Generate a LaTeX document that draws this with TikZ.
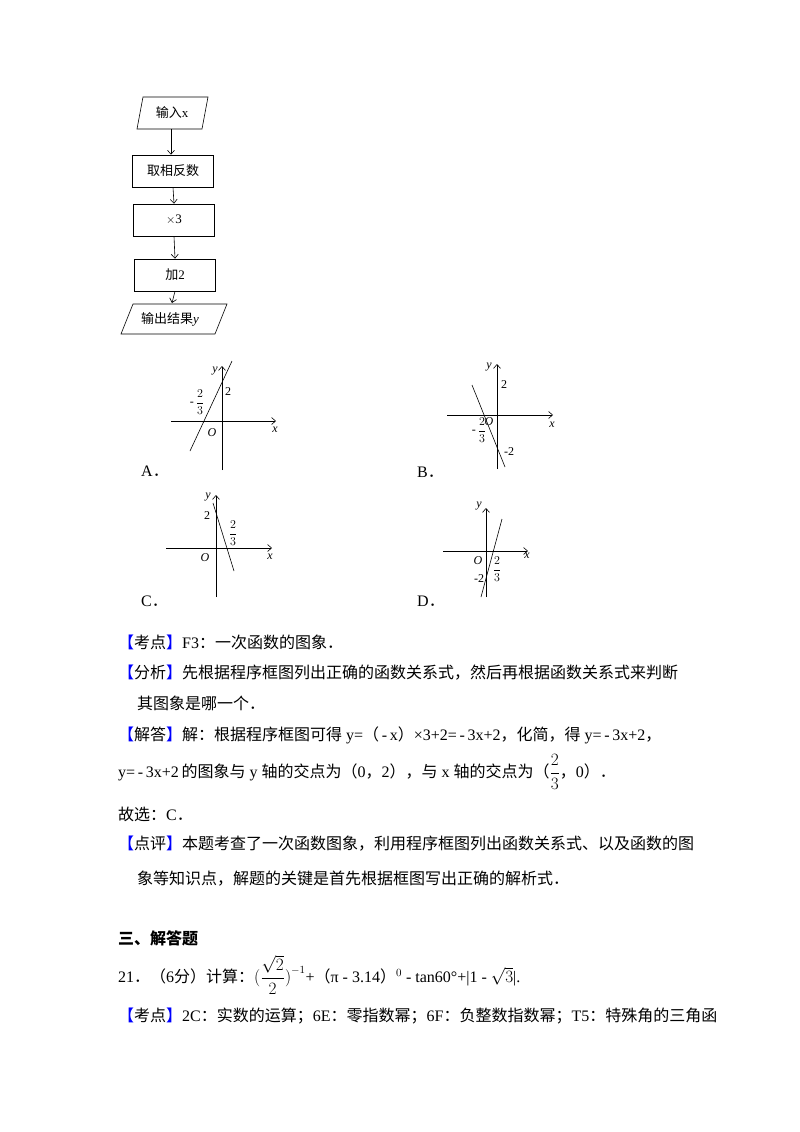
\documentclass[tikz,border=0pt]{standalone}
\usepackage{fontspec}
\setmainfont{Liberation Serif}
\newfontfamily\cjk{Noto Sans CJK SC}
\usetikzlibrary{arrows.meta}
\newcommand\zh[1]{{\cjk #1}}
\newcommand\kd[1]{\textcolor{blue}{\zh{【}}\zh{#1}\textcolor{blue}{\zh{】}}}
\newcommand\fr[2]{$\displaystyle\frac{#1}{#2}$}
\begin{document}
\begin{tikzpicture}[x=1pt,y=-1pt,
  fbox/.style={draw,semithick,minimum width=81pt,minimum height=32pt,font=\fontsize{13}{13}\selectfont,inner sep=0pt},
  arr/.style={-{Straight Barb[length=4pt,width=7pt]},semithick},
  ax/.style={-{Straight Barb[length=4pt,width=7pt]},semithick},
  gl/.style={font=\fontsize{12}{12}\selectfont\itshape,inner sep=0pt},
  gn/.style={font=\fontsize{12}{12}\selectfont,inner sep=0pt},
  txt/.style={anchor=west,inner sep=0pt,font=\fontsize{16}{16}\selectfont}]
\useasboundingbox[fill=white] (0,0) rectangle (800,1132);
% flowchart
\draw[semithick] (137,129)--(143,97)--(208,97)--(202,129)--cycle;
\node[font=\fontsize{13}{13}\selectfont] (in) at (172,113) {\zh{输入}x};
\coordinate (inb) at (171,129);
\node[fbox] (b1) at (173,171) {\zh{取相反数}};
\node[fbox] (b2) at (174,220) {$\times$3};
\node[fbox] (b3) at (175,275) {\zh{加}2};
\draw[semithick] (121,334)--(133,304)--(227,304)--(215,334)--cycle;
\node[font=\fontsize{13}{13}\selectfont] (out) at (170,319) {\zh{输出结果}\textit{y}};
\coordinate (outt) at (172,303);
\draw[arr] (inb) -- (b1.north -| inb);
\draw[arr] (b1.south) -- (b2.north);
\draw[arr] (b2.south) -- (b3.north);
\draw[arr] (b3.south) -- (outt);
% graph A
\draw[ax] (171,421)--(276,421);
\draw[ax] (222,470)--(222,366);
\draw[semithick] (190,451)--(232,361);
\node[gl] at (215,371) {y};
\node[gn] at (228,392) {2};
\node[gn] at (197,402) {-\,\fr{2}{3}};
\node[gl] at (212,433) {O};
\node[gl] at (275,430) {x};
\node[txt] at (141,471) {A\zh{．}};
% graph B
\draw[ax] (447,415)--(553,415);
\draw[ax] (497,469)--(497,364);
\draw[semithick] (472,385)--(505,467);
\node[gl] at (489,367) {y};
\node[gn] at (504,385) {2};
\node[gn] at (479,430) {-\,\fr{2}{3}};
\node[gl] at (489,422) {O};
\node[gn] at (509,452) {-2};
\node[gl] at (552,425) {x};
\node[txt] at (417,472) {B\zh{．}};
% graph C
\draw[ax] (166,548)--(272,548);
\draw[ax] (216,597)--(216,495);
\draw[semithick] (213,503)--(234,571);
\node[gl] at (208,497) {y};
\node[gn] at (207,516) {2};
\node[gn] at (233,533) {\fr{2}{3}};
\node[gl] at (205,558) {O};
\node[gl] at (270,557) {x};
\node[txt] at (141,601) {C\zh{．}};
% graph D
\draw[ax] (443,551)--(528,551);
\draw[ax] (486,597)--(486,508);
\draw[semithick] (481,597)--(502,519);
\node[gl] at (479,506) {y};
\node[gl] at (478,561) {O};
\node[gn] at (497,569) {\fr{2}{3}};
\node[gn] at (479,579) {-2};
\node[gl] at (527,556) {x};
\node[txt] at (417,601) {D\zh{．}};
% text
\node[txt] at (118,642) {\kd{考点}F3\zh{：一次函数的图象．}};
\node[txt] at (118,673) {\kd{分析}\zh{先根据程序框图列出正确的函数关系式，然后再根据函数关系式来判断}};
\node[txt] at (137,703) {\zh{其图象是哪一个．}};
\node[txt] at (118,735) {\kd{解答}\zh{解：根据程序框图可得} y=\zh{（}\,-\,x\zh{）}×3+2=\,-\,3x+2\zh{，化简，得} y=\,-\,3x+2\zh{，}};
\node[txt] at (118,772) {y=\,-\,3x+2\,\zh{的图象与} y \zh{轴的交点为（}0\zh{，}2\zh{），与} x \zh{轴的交点为（}\fr{2}{3}\zh{，}0\zh{）．}};
\node[txt] at (118,814) {\zh{故选：}C\zh{．}};
\node[txt] at (118,844) {\kd{点评}\zh{本题考查了一次函数图象，利用程序框图列出函数关系式、以及函数的图}};
\node[txt] at (137,879) {\zh{象等知识点，解题的关键是首先根据框图写出正确的解析式．}};
\node[txt] at (118,938) {{\cjk\bfseries 三、解答题}};
\node[txt] at (118,975) {21\zh{．（}6\zh{分）计算：}$\bigl(\displaystyle\frac{\sqrt{2}}{2}\bigr)^{-1}$+\zh{（}π - 3.14\zh{）}$^{0}$ - tan60°+|1 - $\sqrt{3}$|.};
\node[txt] at (118,1016) {\kd{考点}2C\zh{：实数的运算；}6E\zh{：零指数幂；}6F\zh{：负整数指数幂；}T5\zh{：特殊角的三角函}};
\end{tikzpicture}
\end{document}
